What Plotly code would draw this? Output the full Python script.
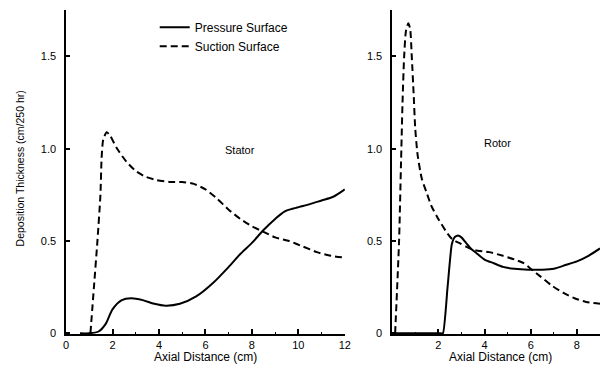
import plotly.graph_objects as go

# ---- data ----
stator_p_x = [0.6, 1.0, 1.4, 1.7, 2.0, 2.4, 2.8, 3.3, 3.8, 4.3, 4.9, 5.6, 6.3, 7.0, 7.5, 8.0, 8.5, 9.0, 9.4, 9.9, 10.5, 11.0, 11.5, 12.0]
stator_p_y = [0, 0, 0.01, 0.05, 0.13, 0.18, 0.19, 0.18, 0.16, 0.15, 0.16, 0.2, 0.27, 0.36, 0.43, 0.49, 0.56, 0.62, 0.66, 0.68, 0.70, 0.72, 0.74, 0.78]

stator_s_x = [1.05, 1.2, 1.35, 1.48, 1.53, 1.6, 1.75, 1.9, 2.2, 2.6, 3.0, 3.4, 3.9, 4.5, 5.0, 5.5, 6.0, 6.5, 7.0, 7.5, 8.0, 8.5, 9.0, 9.6, 10.2, 10.8, 11.4, 12.0]
stator_s_y = [0, 0.25, 0.5, 0.75, 0.95, 1.05, 1.09, 1.07, 1.0, 0.93, 0.88, 0.85, 0.83, 0.82, 0.82, 0.81, 0.78, 0.73, 0.67, 0.62, 0.58, 0.55, 0.52, 0.50, 0.47, 0.44, 0.42, 0.41]

rotor_p_x = [0.1, 1.0, 2.1, 2.2, 2.4, 2.58, 2.7, 2.85, 3.0, 3.2, 3.4, 3.7, 4.0, 4.4, 4.8, 5.3, 5.9, 6.5, 7.0, 7.5, 8.0, 8.5, 9.0]
rotor_p_y = [0, 0, 0, 0, 0.25, 0.48, 0.52, 0.53, 0.52, 0.49, 0.46, 0.43, 0.40, 0.38, 0.36, 0.35, 0.345, 0.345, 0.35, 0.37, 0.39, 0.42, 0.46]

rotor_s_x = [0.13, 0.3, 0.38, 0.45, 0.52, 0.6, 0.7, 0.78, 0.85, 0.93, 1.0, 1.1, 1.28, 1.5, 1.7, 2.0, 2.4, 2.6, 2.9, 3.2, 3.6, 4.2, 4.8, 5.3, 5.7, 6.0, 6.4, 6.9, 7.4, 7.9, 8.4, 9.0]
rotor_s_y = [0, 0.5, 0.9, 1.25, 1.5, 1.64, 1.68, 1.65, 1.5, 1.3, 1.11, 0.97, 0.84, 0.76, 0.69, 0.62, 0.54, 0.51, 0.49, 0.47, 0.45, 0.44, 0.42, 0.40, 0.38, 0.35, 0.31, 0.26, 0.22, 0.19, 0.17, 0.16]

stator_xticks = [0, 2, 4, 6, 8, 10, 12]
rotor_xticks = [2, 4, 6, 8]
yticks = [0, 0.5, 1.0, 1.5]
ytick_text = ["0", "0.5", "1.0", "1.5"]

W, H = 606, 373
FONT = "Liberation Sans, Arial, sans-serif"
DASH = "7px,4px"

fig = go.Figure()
fig.add_trace(go.Scatter(x=stator_p_x, y=stator_p_y, mode="lines", name="Pressure Surface",
                         line=dict(color="black", width=2, shape="spline", smoothing=0.8),
                         xaxis="x", yaxis="y"))
fig.add_trace(go.Scatter(x=stator_s_x, y=stator_s_y, mode="lines", name="Suction Surface",
                         line=dict(color="black", width=2, dash=DASH, shape="spline", smoothing=0.6),
                         xaxis="x", yaxis="y"))
fig.add_trace(go.Scatter(x=rotor_p_x, y=rotor_p_y, mode="lines", showlegend=False,
                         line=dict(color="black", width=2, shape="spline", smoothing=0.5),
                         xaxis="x2", yaxis="y2"))
fig.add_trace(go.Scatter(x=rotor_s_x, y=rotor_s_y, mode="lines", showlegend=False,
                         line=dict(color="black", width=2, dash=DASH, shape="spline", smoothing=0.6),
                         xaxis="x2", yaxis="y2"))

y0 = -0.006
ydom = [1 - 339 / H, 1 - 10.5 / H]
common_x = dict(showgrid=False, zeroline=False, showline=True, linecolor="black", linewidth=1.5,
                ticks="inside", ticklen=6, tickcolor="black", tickwidth=1.5,
                tickfont=dict(family=FONT, size=11, color="black"),
                minor=dict(dtick=1, ticks="inside", ticklen=3, tickcolor="black", tickwidth=1))
common_y = dict(showgrid=False, zeroline=False, showline=True, linecolor="black", linewidth=1.5,
                ticks="inside", ticklen=4, tickcolor="black", tickwidth=1.5,
                tickfont=dict(family=FONT, size=11, color="black"),
                range=[y0, 1.75], tickvals=yticks, ticktext=ytick_text, domain=ydom,
                ticklabelstandoff=6)

fig.update_layout(
    width=W, height=H,
    margin=dict(l=0, r=0, t=0, b=0),
    paper_bgcolor="white", plot_bgcolor="white",
    font=dict(family=FONT, size=11, color="black"),
    xaxis=dict(common_x, domain=[64 / W, 347 / W], range=[0, 12], tickvals=stator_xticks, anchor="y"),
    yaxis=dict(common_y, anchor="x"),
    xaxis2=dict(common_x, domain=[395 / W, 606 / W], range=[0, 9], tickvals=rotor_xticks, anchor="y2"),
    yaxis2=dict(common_y, anchor="x2"),
    legend=dict(x=154 / W, y=1 - 13 / H, xanchor="left", yanchor="top",
                bgcolor="rgba(0,0,0,0)", font=dict(family=FONT, size=12),
                itemwidth=30, tracegroupgap=0),
    showlegend=True,
)

ann = [
    dict(text="Stator", x=241 / W, y=1 - 152 / H, size=11),
    dict(text="Rotor", x=502 / W, y=1 - 145 / H, size=11),
    dict(text="Axial Distance (cm)", x=206 / W, y=1 - 362 / H, size=12),
    dict(text="Axial Distance (cm)", x=505 / W, y=1 - 362 / H, size=12),
    dict(text="Deposition Thickness (cm/250 hr)", x=17 / W, y=1 - 171 / H, textangle=-90, size=10.5),
]
for a in ann:
    s = a.pop("size")
    fig.add_annotation(xref="paper", yref="paper", showarrow=False, xanchor="center", yanchor="middle",
                       font=dict(family=FONT, size=s, color="black"), **a)

fig.write_html("out.html")
